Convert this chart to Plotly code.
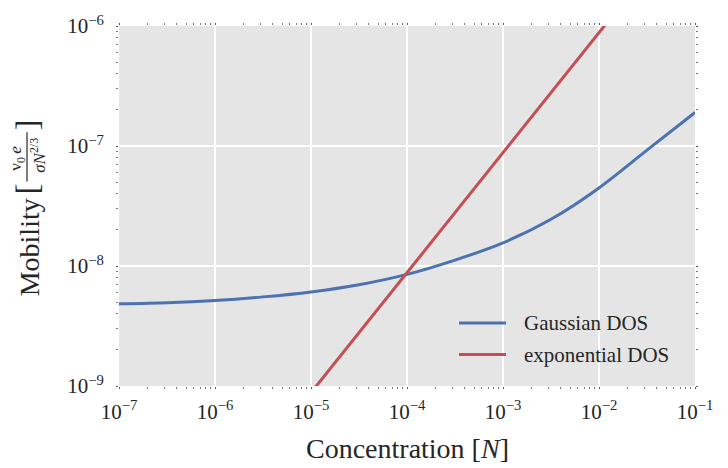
import plotly.graph_objects as go

# Data
conc_gauss = [1e-7, 10**-6.5, 1e-6, 10**-5.5, 1e-5, 10**-4.5, 1e-4, 10**-3.5, 1e-3, 10**-2.5, 1e-2, 10**-1.5, 1e-1]
mob_gauss = [4.84e-9, 4.94e-9, 5.16e-9, 5.53e-9, 6.08e-9, 6.98e-9, 8.51e-9, 1.12e-8, 1.56e-8, 2.45e-8, 4.47e-8, 9.23e-8, 1.9e-7]
conc_exp = [1e-5, 1e-4, 1e-3, 1e-2, 1e-1]
mob_exp = [8.8e-10, 8.8e-9, 8.8e-8, 8.8e-7, 8.8e-6]

series_names = ["Gaussian DOS", "exponential DOS"]
series_colors = ["#4C72B0", "#C44E52"]

x_ticks = [1e-7, 1e-6, 1e-5, 1e-4, 1e-3, 1e-2, 1e-1]
x_labels = ["10<sup>\u22127</sup>", "10<sup>\u22126</sup>", "10<sup>\u22125</sup>", "10<sup>\u22124</sup>",
            "10<sup>\u22123</sup>", "10<sup>\u22122</sup>", "10<sup>\u22121</sup>"]
y_ticks = [1e-9, 1e-8, 1e-7, 1e-6]
y_labels = ["10<sup>\u22129</sup>", "10<sup>\u22128</sup>", "10<sup>\u22127</sup>", "10<sup>\u22126</sup>"]

x_minor = [m * 10**e for e in range(-7, -1) for m in range(2, 10)]
y_minor = [m * 10**e for e in range(-9, -6) for m in range(2, 10)]

FONT = "Liberation Serif"
TXT = "#262626"

fig = go.Figure()
fig.add_trace(go.Scatter(x=conc_gauss, y=mob_gauss, mode="lines", name=series_names[0],
                         line=dict(color=series_colors[0], width=3, shape="spline", smoothing=0.8)))
fig.add_trace(go.Scatter(x=conc_exp, y=mob_exp, mode="lines", name=series_names[1],
                         line=dict(color=series_colors[1], width=3)))

L, R, T, B = 119, 33, 20, 82
W, H = 728, 468
pw, ph = W - L - R, H - T - B

fig.update_layout(
    width=W, height=H,
    margin=dict(l=L, r=R, t=T, b=B),
    paper_bgcolor="white", plot_bgcolor="#E5E5E5",
    font=dict(family=FONT, color=TXT, size=21),
    showlegend=False,
)
common = dict(
    type="log", tickmode="array",
    showgrid=True, gridcolor="white", gridwidth=2,
    ticks="outside", ticklen=2, tickcolor="#555", mirror="ticks",
    showline=False, zeroline=False,
    tickfont=dict(size=21, family=FONT, color=TXT),
)
fig.update_xaxes(range=[-7, -1], tickvals=x_ticks, ticktext=x_labels, ticklabelstandoff=5,
                 minor=dict(tickvals=x_minor, ticks="outside", ticklen=2, tickcolor="#777", showgrid=False),
                 **common)
fig.update_yaxes(range=[-9, -6], tickvals=y_ticks, ticktext=y_labels, ticklabelstandoff=8,
                 minor=dict(tickvals=y_minor, ticks="outside", ticklen=2, tickcolor="#777", showgrid=False),
                 **common)

def px2paper(px, py):
    return (px - L) / pw, (H - B - py) / ph

def label(px, py, text, size, angle=0, xanchor="center"):
    x, y = px2paper(px, py)
    fig.add_annotation(x=x, y=y, xref="paper", yref="paper", text=text, showarrow=False,
                       textangle=angle, font=dict(size=size, family=FONT, color=TXT),
                       xanchor=xanchor, yanchor="middle")

def hline(px0, px1, py, color, width):
    x0, y0 = px2paper(px0, py)
    x1, _ = px2paper(px1, py)
    fig.add_shape(type="line", xref="paper", yref="paper", x0=x0, x1=x1, y0=y0, y1=y0,
                  line=dict(color=color, width=width))

# x-axis title
label(407, 450, "Concentration [<i>N</i>]", 28)

# y-axis title built from pieces (fraction)
label(29, 245, "Mobility", 28, angle=-90)
label(27, 186, "[", 32, angle=-90)
label(17, 155, "\u03bd<sub>0</sub>\u2009<i>e</i>", 17, angle=-90)
label(38, 152, "<i>\u03c3N</i><sup>2/3</sup>", 17, angle=-90)
label(27, 121, "]", 32, angle=-90)
bx0, by0 = px2paper(27, 128)
bx1, by1 = px2paper(27, 178)
fig.add_shape(type="line", xref="paper", yref="paper", x0=bx0, x1=bx1, y0=by0, y1=by1,
              line=dict(color=TXT, width=1.2))

# legend
for i, (nm, col) in enumerate(zip(series_names, series_colors)):
    py = 322 + 32 * i
    hline(459, 506, py, col, 3)
    label(522, py, nm, 21, xanchor="left")

fig.write_html("out.html")
